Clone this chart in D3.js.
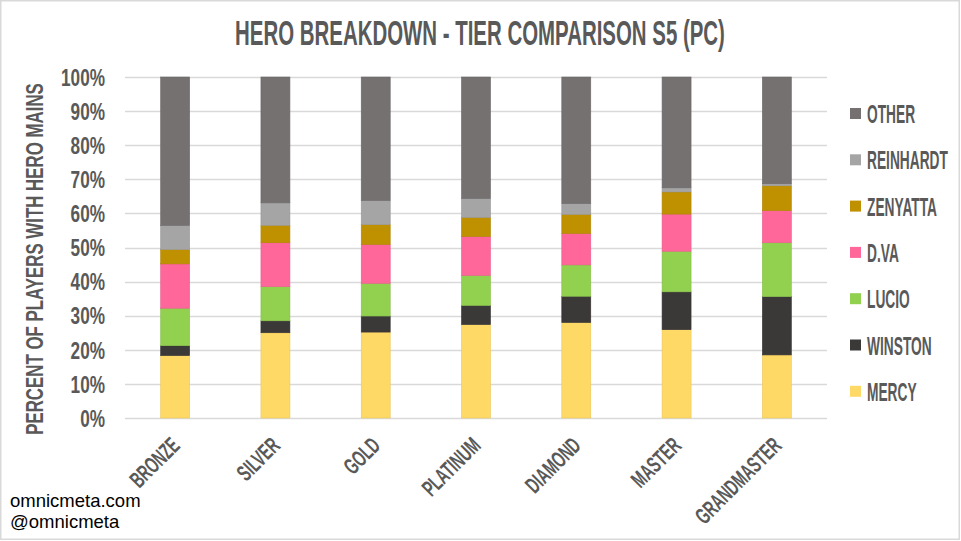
<!DOCTYPE html>
<html>
<head>
<meta charset="utf-8">
<script src="https://cdn.jsdelivr.net/npm/d3@7"></script>
<style>
  html, body { margin: 0; padding: 0; background: #fff; }
  svg { display: block; }
</style>
</head>
<body>
<svg id="chart" width="961" height="541"></svg>
<script>
// ---- DATA ----
const tiers = ["BRONZE", "SILVER", "GOLD", "PLATINUM", "DIAMOND", "MASTER", "GRANDMASTER"];
const heroes = ["MERCY", "WINSTON", "LUCIO", "D.VA", "ZENYATTA", "REINHARDT", "OTHER"];
const mercy     = [18.3, 25.0, 25.2, 27.4, 28.0, 25.9, 18.5];
const winston   = [2.9, 3.5, 4.7, 5.6, 7.7, 11.1, 17.1];
const lucio     = [11.0, 10.0, 9.6, 8.8, 9.2, 11.9, 15.8];
const dva       = [13.0, 12.9, 11.4, 11.4, 9.2, 10.9, 9.4];
const zenyatta  = [4.2, 5.1, 5.8, 5.6, 5.6, 6.5, 7.3];
const reinhardt = [7.1, 6.6, 7.1, 5.6, 3.2, 1.2, 0.6];
const other     = [43.5, 36.9, 36.2, 35.6, 37.1, 32.5, 31.3];
const yTicks = [0, 10, 20, 30, 40, 50, 60, 70, 80, 90, 100];
const heroColors = ["#ffd966", "#3b3838", "#92d050", "#ff6699", "#bf9000", "#a5a5a5", "#757171"];
const titleText = "HERO BREAKDOWN - TIER COMPARISON S5 (PC)";
const yTitleText = "PERCENT OF PLAYERS WITH HERO MAINS";
const footer = ["omnicmeta.com", "@omnicmeta"];

const seriesValues = [mercy, winston, lucio, dva, zenyatta, reinhardt, other];
const table = tiers.map((t, i) => {
  const row = { tier: t };
  heroes.forEach((h, j) => row[h] = seriesValues[j][i]);
  return row;
});

// ---- CHART ----
const svg = d3.select("#chart");
const W = 961, H = 541;
const textColor = "#595959";
const condFont = "'Liberation Sans', Arial, sans-serif";

svg.append("rect").attr("x", 0).attr("y", 0).attr("width", W).attr("height", H).attr("fill", "#fff");
svg.append("rect").attr("x", 0.75).attr("y", 0.75).attr("width", 958.5).attr("height", 538.5)
  .attr("fill", "none").attr("stroke", "#d9d9d9").attr("stroke-width", 1.5);

const plot = { left: 125, right: 827, top: 77, bottom: 418 };
const pad = 0.711;
const x = d3.scaleBand().domain(tiers).range([plot.left, plot.right]).paddingInner(pad).paddingOuter(pad / 2);
const y = d3.scaleLinear().domain([0, 100]).range([plot.bottom, plot.top]);
const color = d3.scaleOrdinal().domain(heroes).range(heroColors);

// gridlines
svg.append("g").selectAll("line").data(yTicks).join("line")
  .attr("x1", plot.left).attr("x2", plot.right)
  .attr("y1", d => Math.round(y(d)) + 0.5).attr("y2", d => Math.round(y(d)) + 0.5)
  .attr("stroke", "#d9d9d9").attr("stroke-width", 1.3);

// stacked bars
const stack = d3.stack().keys(heroes)(table);
svg.append("g").selectAll("g").data(stack).join("g")
  .attr("fill", d => color(d.key))
  .attr("stroke", d => d3.color(color(d.key)).darker(0.25))
  .attr("stroke-width", 0.6)
  .selectAll("rect").data(d => d).join("rect")
  .attr("x", d => x(d.data.tier))
  .attr("width", x.bandwidth())
  .attr("y", d => y(d[1]))
  .attr("height", d => y(d[0]) - y(d[1]));

// horizontal condensing: factor from a sample text's natural width and its target width
function condenseFactor(sel, sampleText, targetWidth) {
  let w = null;
  sel.each(function () { if (this.textContent === sampleText) w = this.getComputedTextLength(); });
  return (w && w > 0) ? targetWidth / w : 0.6;
}

// y axis tick labels
const yAxis = d3.axisLeft(y).tickValues(yTicks).tickFormat(d => d + "%").tickSize(0).tickPadding(0);
const yg = svg.append("g").attr("transform", `translate(105,0)`).call(yAxis);
yg.select(".domain").remove();
const yTxt = yg.selectAll("text")
  .attr("font-family", condFont).attr("font-size", 23).attr("font-weight", "bold").attr("fill", textColor)
  .attr("x", 0).attr("dy", "0.36em").attr("text-anchor", "end");
const fy = condenseFactor(yTxt, "100%", 44);
yTxt.attr("transform", `scale(${fy},1)`);

// x axis labels
const xAxis = d3.axisBottom(x).tickSize(0).tickPadding(0);
const xg = svg.append("g").call(xAxis);
xg.select(".domain").remove();
xg.selectAll(".tick").attr("transform", d => `translate(${x(d) + x.bandwidth() / 2 + 6},447)`);
const xTxt = xg.selectAll("text")
  .attr("y", 0).attr("dy", 0).attr("x", 0)
  .attr("font-family", condFont).attr("font-size", 23).attr("font-weight", "bold").attr("fill", textColor)
  .attr("text-anchor", "end");
const fx = condenseFactor(xTxt, "GRANDMASTER", 111);
xTxt.attr("transform", `rotate(-45) scale(${fx},1)`);

// title
const title = svg.append("text")
  .attr("text-anchor", "middle")
  .attr("font-family", condFont).attr("font-size", 34.5).attr("font-weight", "bold").attr("fill", textColor)
  .text(titleText);
const ft = condenseFactor(title, titleText, 490);
title.attr("transform", `translate(480,45) scale(${ft},1)`);

// y title
const yTitle = svg.append("text")
  .attr("text-anchor", "middle")
  .attr("font-family", condFont).attr("font-size", 23).attr("font-weight", "bold").attr("fill", textColor)
  .text(yTitleText);
const fyt = condenseFactor(yTitle, yTitleText, 352);
yTitle.attr("transform", `translate(43,259) rotate(-90) scale(${fyt},1)`);

// legend (top to bottom: OTHER ... MERCY)
const legendOrder = heroes.slice().reverse();
const lg = svg.append("g").selectAll("g").data(legendOrder).join("g")
  .attr("transform", (d, i) => `translate(850,${113.5 + i * 46.3})`);
lg.append("rect").attr("x", 0).attr("y", -5.5).attr("width", 11).attr("height", 11)
  .attr("fill", d => color(d));
const lTxt = lg.append("text")
  .attr("font-family", condFont).attr("font-size", 25).attr("font-weight", "bold").attr("fill", textColor)
  .text(d => d);
const fl = condenseFactor(lTxt, "REINHARDT", 81);
lTxt.attr("transform", `translate(17,9.5) scale(${fl},1)`);

// footer
svg.append("g").selectAll("text").data(footer).join("text")
  .attr("x", 10).attr("y", (d, i) => 507 + i * 21)
  .attr("font-family", "'Liberation Sans', Arial, sans-serif").attr("font-size", 18.5).attr("fill", "#000")
  .text(d => d);
</script>
</body>
</html>
